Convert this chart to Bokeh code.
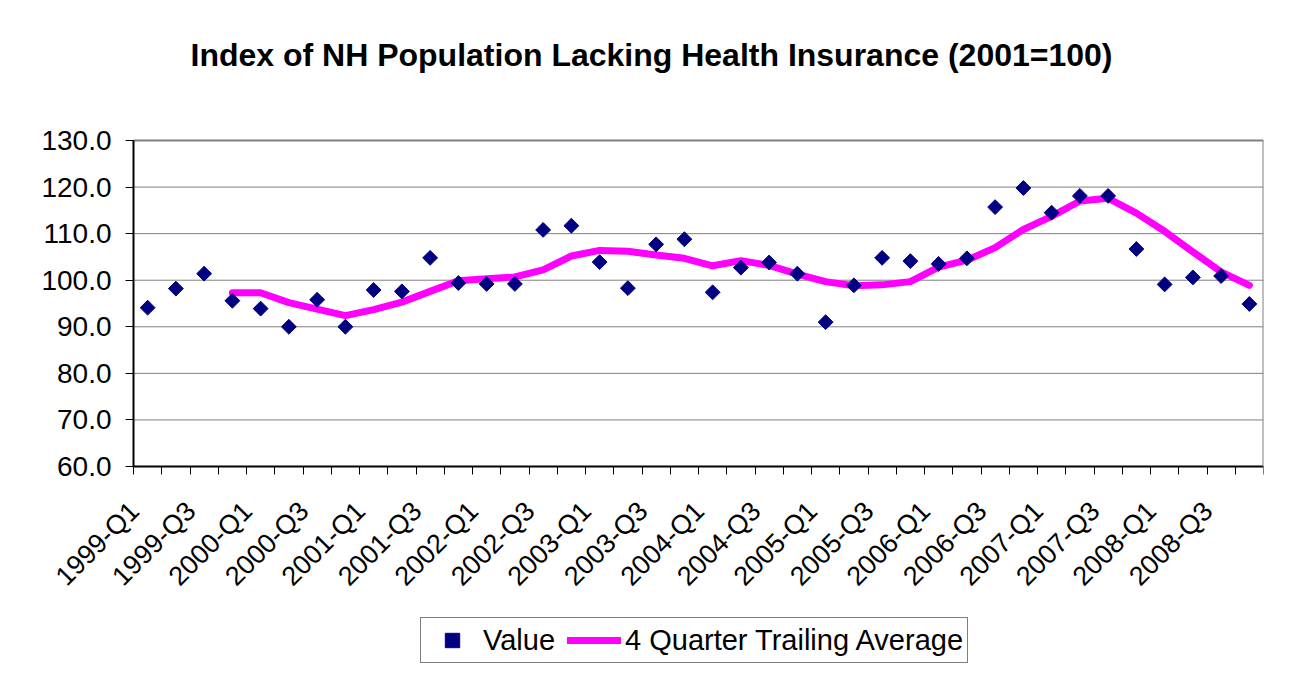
import math
from bokeh.plotting import figure
from bokeh.models import (Range1d, FixedTicker, NumeralTickFormatter, Title, LinearAxis,
                          Legend, LegendItem, ColumnDataSource)
from bokeh.embed import file_html
from bokeh.resources import INLINE

# ---- data ----
quarters = [
    "1999-Q1", "1999-Q2", "1999-Q3", "1999-Q4",
    "2000-Q1", "2000-Q2", "2000-Q3", "2000-Q4",
    "2001-Q1", "2001-Q2", "2001-Q3", "2001-Q4",
    "2002-Q1", "2002-Q2", "2002-Q3", "2002-Q4",
    "2003-Q1", "2003-Q2", "2003-Q3", "2003-Q4",
    "2004-Q1", "2004-Q2", "2004-Q3", "2004-Q4",
    "2005-Q1", "2005-Q2", "2005-Q3", "2005-Q4",
    "2006-Q1", "2006-Q2", "2006-Q3", "2006-Q4",
    "2007-Q1", "2007-Q2", "2007-Q3", "2007-Q4",
    "2008-Q1", "2008-Q2", "2008-Q3", "2008-Q4",
]
values = [
    94.1, 98.2, 101.4, 95.6,
    93.9, 90.0, 95.8, 90.0,
    97.9, 97.6, 104.8, 99.4,
    99.2, 99.2, 110.8, 111.7,
    103.9, 98.3, 107.7, 108.8,
    97.4, 102.7, 103.8, 101.4,
    91.0, 98.9, 104.8, 104.1,
    103.5, 104.7, 115.7, 119.8,
    114.5, 118.1, 118.1, 106.7,
    99.1, 100.6, 100.9, 94.9,
]
# 4 quarter trailing average, starting at 1999-Q4
trailing_avg = [
    97.3,
    97.3, 95.2, 93.8, 92.4,
    93.7, 95.3, 97.6, 99.9,
    100.3, 100.7, 102.2, 105.2,
    106.4, 106.2, 105.4, 104.7,
    103.1, 104.2, 103.2, 101.3,
    99.7, 98.8, 99.0, 99.7,
    102.8, 104.3, 107.0, 110.9,
    113.7, 117.0, 117.6, 114.4,
    110.5, 106.1, 101.8, 98.9,
]
y_ticks = [60, 70, 80, 90, 100, 110, 120, 130]
title_text = "Index of NH Population Lacking Health Insurance (2001=100)"

n = len(quarters)
x_idx = list(range(n))
avg_x = x_idx[n - len(trailing_avg):]

src_v = ColumnDataSource(dict(x=x_idx, v=values, q=quarters))
src_a = ColumnDataSource(dict(x=avg_x, a=trailing_avg))

FONT = "Liberation Sans"
NAVY = "#000080"
MAGENTA = "#FF00FF"
GREY = "#808080"

# Plot area: 1130 x 326 px. The frame is made larger (left, top, bottom) so the
# pinned axes' labels and the legend fit inside it without being clipped.
Y_MIN, Y_MAX = y_ticks[0], y_ticks[-1]
X_LO, X_HI = -0.5, n - 0.5
PLOT_W, PLOT_H = 1130, 326
PAD_L, PAD_T, PAD_B = 93, 20, 204
px_x = PLOT_W / (X_HI - X_LO)
px_y = PLOT_H / (Y_MAX - Y_MIN)

p = figure(
    frame_width=PLOT_W + PAD_L, frame_height=PLOT_H + PAD_T + PAD_B,
    x_range=Range1d(X_LO - PAD_L / px_x, X_HI),
    y_range=Range1d(Y_MIN - PAD_B / px_y, Y_MAX + PAD_T / px_y),
    output_backend="svg", toolbar_location=None,
    min_border_left=40, min_border_right=22,
    min_border_top=120, min_border_bottom=9,
)
xa = p.below[0]
ya = p.left[0]

p.title_location = None
p.background_fill_color = "white"
p.border_fill_color = "white"
p.outline_line_color = None
p.xgrid.visible = False
p.ygrid.visible = False

# title: a blank spacer panel next to the frame, then the real title above it
p.add_layout(Title(text=" ", text_font_size="10px", standoff=35), "above")
p.add_layout(Title(text=title_text, align="left", offset=150, standoff=0,
                   text_font=FONT, text_font_size="32px", text_font_style="bold",
                   text_color="black"), "above")

# grey plot-area border (top and right)
top_border = LinearAxis(fixed_location=Y_MAX, bounds=(X_LO, X_HI),
                        ticker=FixedTicker(ticks=[]),
                        axis_line_color=GREY, axis_line_width=2,
                        major_tick_out=0, major_tick_in=0,
                        minor_tick_out=0, minor_tick_in=0)
right_border = LinearAxis(fixed_location=X_HI, bounds=(Y_MIN, Y_MAX),
                          ticker=FixedTicker(ticks=[]),
                          axis_line_color=GREY, axis_line_width=2,
                          major_tick_out=0, major_tick_in=0,
                          minor_tick_out=0, minor_tick_in=0)
p.add_layout(top_border, "above")
p.add_layout(right_border, "right")

# horizontal grid lines across the plot area only
p.segment(x0=[X_LO] * len(y_ticks), x1=[X_HI] * len(y_ticks), y0=y_ticks, y1=y_ticks,
          line_color=GREY, line_width=1)

# y axis
ya.fixed_location = X_LO
ya.ticker = FixedTicker(ticks=y_ticks)
ya.bounds = (Y_MIN, Y_MAX)
ya.formatter = NumeralTickFormatter(format="0.0")
ya.major_label_text_font = FONT
ya.major_label_text_font_size = "28px"
ya.major_label_text_color = "black"
ya.major_tick_out = 8
ya.major_tick_in = 0
ya.minor_tick_out = 0
ya.minor_tick_in = 0
ya.major_tick_line_color = "black"
ya.axis_line_color = "black"
ya.axis_line_width = 2
ya.major_label_standoff = 14

# x axis: labels every other category (anchored like the original), ticks at
# category boundaries
LABEL_SHIFT = 13 / px_x
label_pos = [i - LABEL_SHIFT for i in x_idx[::2]]
xa.fixed_location = Y_MIN
xa.bounds = (X_LO, X_HI)
xa.ticker = FixedTicker(ticks=label_pos, minor_ticks=[i - 0.5 for i in range(n + 1)])
xa.major_label_overrides = {pos: quarters[i] for pos, i in zip(label_pos, x_idx[::2])}
xa.major_label_orientation = math.pi / 4
xa.major_label_text_font = FONT
xa.major_label_text_font_size = "27px"
xa.major_label_text_color = "black"
xa.major_tick_out = 0
xa.major_tick_in = 0
xa.minor_tick_out = 8
xa.minor_tick_in = 0
xa.minor_tick_line_color = "black"
xa.axis_line_color = "black"
xa.axis_line_width = 2
xa.major_label_standoff = 32

# series
ln = p.line(x="x", y="a", source=src_a, line_color=MAGENTA, line_width=7,
            line_join="round", line_cap="round")
sc = p.scatter(x="x", y="v", source=src_v, marker="square", angle=math.pi / 4,
               size=10.5, fill_color=NAVY, line_color=NAVY)

legend = Legend(
    items=[LegendItem(label="Value", renderers=[sc]),
           LegendItem(label="4 Quarter Trailing Average", renderers=[ln])],
    orientation="horizontal", location=(420 - 40, 7),
    label_text_font=FONT, label_text_font_size="29px", label_text_color="black",
    glyph_width=54, glyph_height=36, padding=4, spacing=12, label_standoff=4,
    margin=0, border_line_color="#000000", border_line_width=1,
    background_fill_color="white", background_fill_alpha=1,
)
p.add_layout(legend, "center")

open("out.html", "w").write(file_html(p, INLINE))
